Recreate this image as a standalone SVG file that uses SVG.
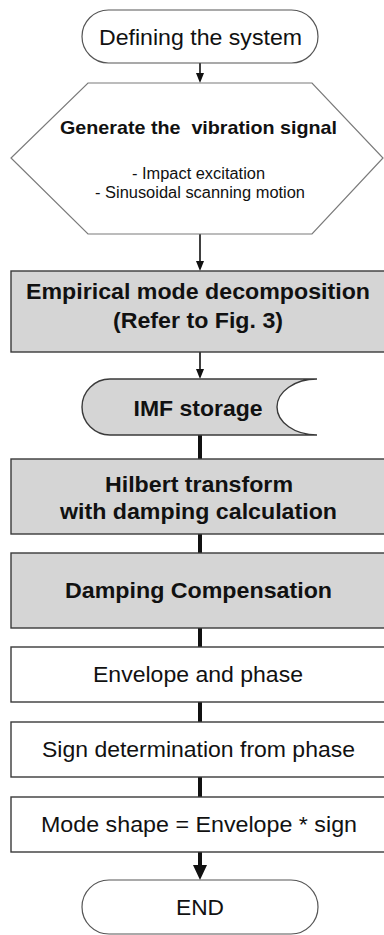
<svg xmlns="http://www.w3.org/2000/svg" width="384" height="935" viewBox="0 0 384 935">
  <style>
    .bg { fill: #ffffff; }
    .shape { stroke: #3a3a3a; stroke-width: 1.4; }
    .grey { fill: #d5d5d5; }
    .white { fill: #ffffff; }
    .hex { fill: #ffffff; stroke: #7a7a7a; stroke-width: 1.2; }
    .term { fill: #ffffff; stroke: #555555; stroke-width: 1.2; }
    .b { font-family: "Liberation Sans", Arial, sans-serif; font-weight: bold; font-size: 22px; fill: #111111; text-anchor: middle; }
    .r { font-family: "Liberation Sans", Arial, sans-serif; font-size: 22px; fill: #111111; text-anchor: middle; }
    .rs { font-family: "Liberation Sans", Arial, sans-serif; font-size: 16px; fill: #111111; text-anchor: middle; }
    .bs { font-family: "Liberation Sans", Arial, sans-serif; font-weight: bold; font-size: 19px; fill: #111111; text-anchor: middle; }
    .thin { stroke: #111111; stroke-width: 1.6; fill: none; }
    .thick { stroke: #111111; stroke-width: 4; fill: none; }
  </style>
  <rect class="bg" x="0" y="0" width="384" height="935"/>

  <!-- connectors: thin arrows at the top, heavy flow lines below -->
  <g id="connectors">
    <line class="thin" x1="200" y1="63" x2="200" y2="74"/>
    <path d="M196,73 L204,73 L200,83 Z" fill="#111111"/>
    <line class="thin" x1="200" y1="234" x2="200" y2="262"/>
    <path d="M196,261 L204,261 L200,271 Z" fill="#111111"/>
    <line class="thin" x1="200" y1="352" x2="200" y2="370"/>
    <path d="M196,369 L204,369 L200,379 Z" fill="#111111"/>
    <line class="thick" x1="200" y1="435" x2="200" y2="459"/>
    <line class="thick" x1="200" y1="534" x2="200" y2="553"/>
    <line class="thick" x1="200" y1="628" x2="200" y2="647"/>
    <line class="thick" x1="200" y1="702" x2="200" y2="722"/>
    <line class="thick" x1="200" y1="777" x2="200" y2="797"/>
    <line class="thick" x1="200" y1="852" x2="200" y2="866"/>
    <path d="M193,865 L207,865 L200,880 Z" fill="#111111"/>
  </g>

  <g id="start">
    <rect class="term" x="82" y="10" width="236" height="53" rx="26.5" ry="26.5"/>
    <text class="r" x="200.5" y="45" textLength="203" lengthAdjust="spacingAndGlyphs">Defining the system</text>
  </g>

  <g id="generate">
    <polygon class="hex" points="88,83 312,83 383,158 312,234 88,234 11,158"/>
    <text class="bs" x="198.5" y="134" textLength="277" lengthAdjust="spacingAndGlyphs" xml:space="preserve">Generate the  vibration signal</text>
    <text class="rs" x="198.5" y="179" textLength="133" lengthAdjust="spacingAndGlyphs">- Impact excitation</text>
    <text class="rs" x="200" y="198" textLength="210" lengthAdjust="spacingAndGlyphs">- Sinusoidal scanning motion</text>
  </g>

  <g id="emd">
    <rect class="shape grey" x="11" y="271" width="380" height="81"/>
    <text class="b" x="198" y="299" textLength="344" lengthAdjust="spacingAndGlyphs">Empirical mode decomposition</text>
    <text class="b" x="198" y="328" textLength="170" lengthAdjust="spacingAndGlyphs">(Refer to Fig. 3)</text>
  </g>

  <g id="imf-storage">
    <path class="shape grey" d="M110,379 L317,379 A40,28 0 0 0 317,435 L110,435 A28,28 0 0 1 110,379 Z"/>
    <text class="b" x="198" y="416" textLength="129" lengthAdjust="spacingAndGlyphs">IMF storage</text>
  </g>

  <g id="hilbert">
    <rect class="shape grey" x="11" y="459" width="380" height="75"/>
    <text class="b" x="199" y="492" textLength="188" lengthAdjust="spacingAndGlyphs">Hilbert transform</text>
    <text class="b" x="198.5" y="519" textLength="277" lengthAdjust="spacingAndGlyphs">with damping calculation</text>
  </g>

  <g id="damping">
    <rect class="shape grey" x="11" y="553" width="380" height="75"/>
    <text class="b" x="198.5" y="598" textLength="267" lengthAdjust="spacingAndGlyphs">Damping Compensation</text>
  </g>

  <g id="envelope">
    <rect class="shape white" x="11" y="647" width="380" height="55"/>
    <text class="r" x="198" y="682" textLength="210" lengthAdjust="spacingAndGlyphs">Envelope and phase</text>
  </g>

  <g id="sign">
    <rect class="shape white" x="11" y="722" width="380" height="55"/>
    <text class="r" x="198.5" y="757" textLength="313" lengthAdjust="spacingAndGlyphs">Sign determination from phase</text>
  </g>

  <g id="mode-shape">
    <rect class="shape white" x="11" y="797" width="380" height="55"/>
    <text class="r" x="199" y="832" textLength="316" lengthAdjust="spacingAndGlyphs">Mode shape = Envelope * sign</text>
  </g>

  <g id="end">
    <rect class="term" x="82" y="880" width="236" height="54" rx="27" ry="27"/>
    <text class="r" x="200" y="915" textLength="48" lengthAdjust="spacingAndGlyphs">END</text>
  </g>
</svg>
